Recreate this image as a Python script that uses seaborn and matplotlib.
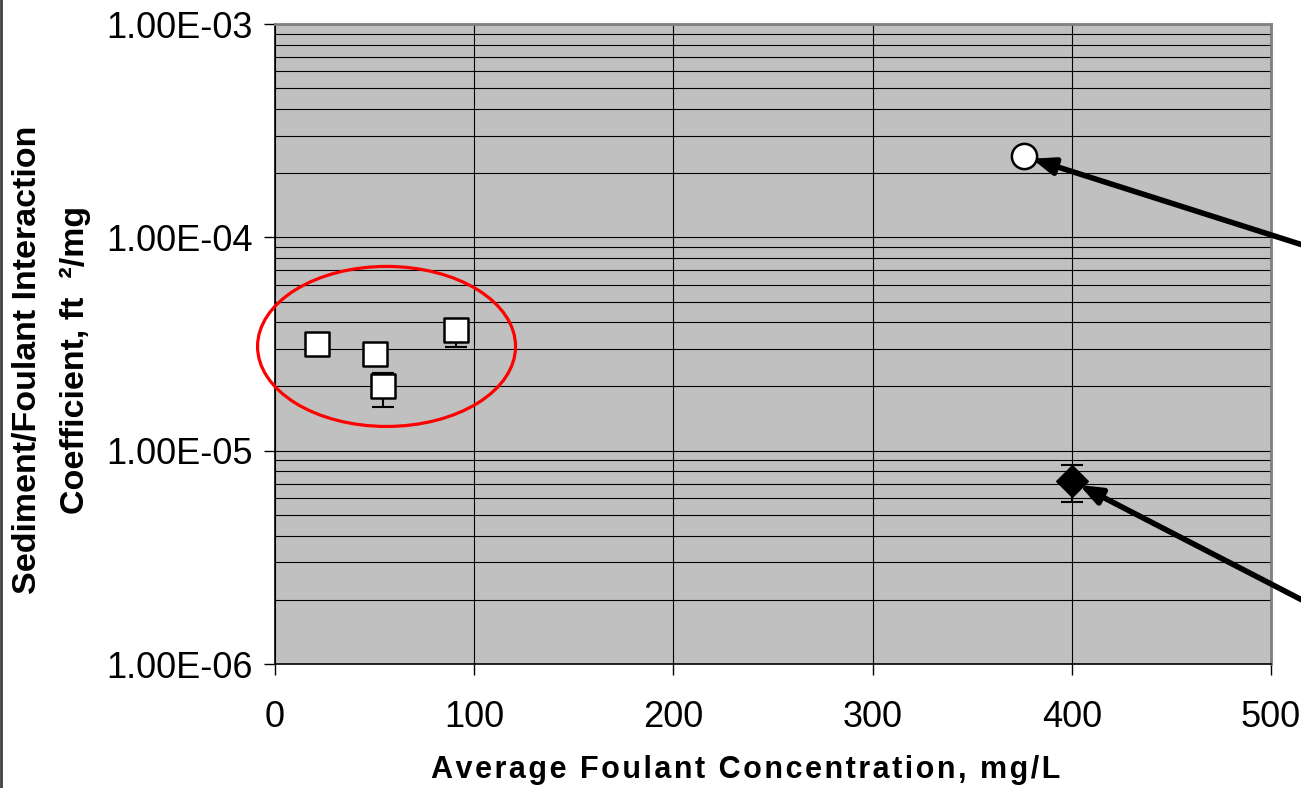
import numpy as np
import pandas as pd
import seaborn as sns
import matplotlib.pyplot as plt
from matplotlib.patches import Ellipse
from matplotlib.lines import Line2D
from matplotlib.transforms import IdentityTransform
from matplotlib.ticker import LogLocator, FixedLocator

# datos
sq_x = [21, 50, 54, 91]
sq_y = [3.15e-5, 2.85e-5, 2.0e-5, 3.66e-5]
sq_lo = [3.15e-5, 2.85e-5, 1.61e-5, 3.05e-5]
sq_hi = [3.15e-5, 2.85e-5, 2.3e-5, 4.15e-5]

circ_x = [376]
circ_y = [2.4e-4]

dia_x = [400]
dia_y = [7.2e-6]
dia_lo = [5.76e-6]
dia_hi = [8.6e-6]

x_ticks = [0, 100, 200, 300, 400, 500]
y_ticks = [1e-6, 1e-5, 1e-4, 1e-3]
y_labels = ["1.00E-06", "1.00E-05", "1.00E-04", "1.00E-03"]

sns.set_style("white")
plt.rcParams['font.family'] = ['Liberation Sans', 'DejaVu Sans']
plt.rcParams['text.color'] = 'black'
plt.rcParams['axes.labelcolor'] = 'black'
plt.rcParams['xtick.color'] = 'black'
plt.rcParams['ytick.color'] = 'black'

fig = plt.figure(figsize=(13.01, 7.88), dpi=100)
ax = fig.add_axes([275 / 1301, 1 - 664 / 788, 996 / 1301, 640 / 788])
ax.set_facecolor('#c0c0c0')
ax.set_yscale('log')
ax.set_xlim(0, 500)
ax.set_ylim(1e-6, 1e-3)

# rejilla
ax.xaxis.set_major_locator(FixedLocator(x_ticks))
ax.yaxis.set_major_locator(FixedLocator(y_ticks))
ax.yaxis.set_minor_locator(LogLocator(base=10, subs=np.arange(2, 10)))
ax.grid(True, which='major', axis='both', color='black', lw=0.8)
ax.grid(True, which='minor', axis='y', color='black', lw=0.8)
ax.set_axisbelow(True)

# barras de error
ax.errorbar(sq_x, sq_y, yerr=[np.array(sq_y) - np.array(sq_lo), np.array(sq_hi) - np.array(sq_y)],
            fmt='none', ecolor='black', elinewidth=1.5, capsize=8, capthick=1.5, zorder=3)
ax.errorbar(dia_x, dia_y, yerr=[np.array(dia_y) - np.array(dia_lo), np.array(dia_hi) - np.array(dia_y)],
            fmt='none', ecolor='black', elinewidth=1.5, capsize=8, capthick=1.5, zorder=3)

# puntos
df_sq = pd.DataFrame({'x': sq_x, 'y': sq_y})
df_c = pd.DataFrame({'x': circ_x, 'y': circ_y})
df_d = pd.DataFrame({'x': dia_x, 'y': dia_y})
sns.scatterplot(data=df_sq, x='x', y='y', marker='s', s=320, color='white',
                edgecolor='black', linewidth=1.8, ax=ax, zorder=4)
sns.scatterplot(data=df_c, x='x', y='y', marker='o', s=330, color='white',
                edgecolor='black', linewidth=1.8, ax=ax, zorder=4)
sns.scatterplot(data=df_d, x='x', y='y', marker='D', s=260, color='black',
                edgecolor='black', linewidth=1, ax=ax, zorder=4)

# flechas
arrow = dict(arrowstyle='-|>,head_length=1.3,head_width=0.5', color='black', lw=4,
             shrinkA=0, shrinkB=6)
ax.annotate('', xy=(circ_x[0], circ_y[0]), xytext=(530, 8.36e-5), arrowprops=arrow,
            annotation_clip=False, zorder=5)
ax.annotate('', xy=(dia_x[0], dia_y[0]), xytext=(530, 1.70e-6), arrowprops=arrow,
            annotation_clip=False, zorder=5)

# elipse roja
fig.canvas.draw()
cx, cy = ax.transData.transform((56, 3.08e-5))
ax.add_artist(Ellipse((cx, cy), 258, 160, transform=IdentityTransform(), fill=False,
                      edgecolor='red', lw=2.3, zorder=5, clip_on=False))

# ejes y textos
for s in ['left', 'bottom']:
    ax.spines[s].set_color('black')
    ax.spines[s].set_linewidth(1.2)
for s in ['top', 'right']:
    ax.spines[s].set_color('#808080')
    ax.spines[s].set_linewidth(2)
ax.set_yticklabels(y_labels)
ax.tick_params(axis='both', which='major', labelsize=26, direction='out', length=8,
               width=1, color='black', left=True, bottom=True, pad=8)
ax.tick_params(axis='y', which='minor', length=0)
ax.tick_params(axis='x', pad=18)

xlab = 'Average Foulant Concentration, mg/L'
ax.set_xlabel('\u200a'.join(xlab), fontsize=22, fontweight='bold')
ax.xaxis.set_label_coords(0.473, -0.142)
ax.set_ylabel('Sediment/Foulant Interaction\nCoefficient, ft  ²/mg', fontsize=24.5,
              fontweight='bold', linespacing=1.7)
ax.yaxis.set_label_coords(-0.185, 0.475)

fig.add_artist(Line2D([0.001, 0.001], [0, 1], color='#404040', lw=2, transform=fig.transFigure))

fig.savefig('out.png', dpi=100)
